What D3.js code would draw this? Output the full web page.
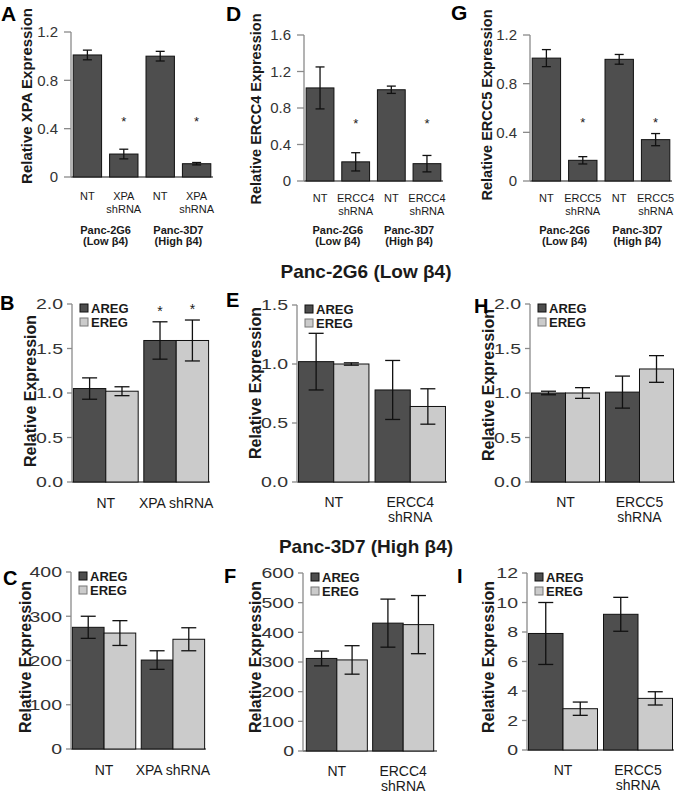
<!DOCTYPE html>
<html><head><meta charset="utf-8">
<script src="https://cdn.jsdelivr.net/npm/d3@7"></script>
<style>body{margin:0;background:#fff} text{font-family:Arial,"Liberation Sans",sans-serif;fill:#1a1a1a}</style>
</head><body><svg id="c" width="675" height="793"></svg>
<script>
// ---------- DATA ----------
// Row 1 (knockdown validation)
const catsA = ["NT","XPA|shRNA","NT","XPA|shRNA"];
const valsA = [1.01,0.19,1.00,0.11];
const errsA = [0.04,0.04,0.04,0.01];
const sigA  = [false,true,false,true];
const ticksA = [0,0.4,0.8,1.2];
const tickLabelsA = ["0","0.4","0.8","1.2"];

const catsD = ["NT","ERCC4|shRNA","NT","ERCC4|shRNA"];
const valsD = [1.02,0.21,1.00,0.19];
const errsD = [0.23,0.10,0.04,0.09];
const sigD  = [false,true,false,true];
const ticksD = [0,0.4,0.8,1.2,1.6];
const tickLabelsD = ["0","0.4","0.8","1.2","1.6"];

const catsG = ["NT","ERCC5|shRNA","NT","ERCC5|shRNA"];
const valsG = [1.01,0.17,1.00,0.34];
const errsG = [0.07,0.03,0.04,0.05];
const sigG  = [false,true,false,true];
const ticksG = [0,0.4,0.8,1.2];
const tickLabelsG = ["0","0.4","0.8","1.2"];

const cellLines = [["Panc-2G6","(Low β4)"],["Panc-3D7","(High β4)"]];
const seriesNames = ["AREG","EREG"];

// Row 2: Panc-2G6 (Low β4)
const catsB = ["NT","XPA shRNA"];
const aregB = [1.05,1.59], aregErrB = [0.12,0.21];
const eregB = [1.02,1.59], eregErrB = [0.05,0.23];
const sigB  = [false,true];
const ticksB = [0,0.5,1.0,1.5,2.0];
const tickLabelsB = ["0.0","0.5","1.0","1.5","2.0"];

const catsE = ["NT","ERCC4|shRNA"];
const aregE = [1.02,0.78], aregErrE = [0.24,0.25];
const eregE = [1.00,0.64], eregErrE = [0.01,0.15];
const sigE  = [false,false];
const ticksE = [0,0.5,1.0,1.5];
const tickLabelsE = ["0.0","0.5","1.0","1.5"];

const catsH = ["NT","ERCC5|shRNA"];
const aregH = [1.00,1.01], aregErrH = [0.02,0.18];
const eregH = [1.00,1.27], eregErrH = [0.06,0.15];
const sigH  = [false,false];
const ticksH = [0,0.5,1.0,1.5,2.0];
const tickLabelsH = ["0.0","0.5","1.0","1.5","2.0"];

// Row 3: Panc-3D7 (High β4)
const catsC = ["NT","XPA shRNA"];
const aregC = [275,201], aregErrC = [25,21];
const eregC = [262,248], eregErrC = [28,26];
const sigC  = [false,false];
const ticksC = [0,100,200,300,400];
const tickLabelsC = ["0","100","200","300","400"];

const catsF = ["NT","ERCC4|shRNA"];
const aregF = [312,431], aregErrF = [25,81];
const eregF = [307,426], eregErrF = [48,98];
const sigF  = [false,false];
const ticksF = [0,100,200,300,400,500,600];
const tickLabelsF = ["0","100","200","300","400","500","600"];

const catsI = ["NT","ERCC5|shRNA"];
const aregI = [7.9,9.2], aregErrI = [2.1,1.15];
const eregI = [2.8,3.5], eregErrI = [0.45,0.45];
const sigI  = [false,false];
const ticksI = [0,2,4,6,8,10,12];
const tickLabelsI = ["0","2","4","6","8","10","12"];

// ---------- STYLE ----------
const DARK = "#4e4e4e", LIGHT = "#cbcbcb", AX = "#8a8a8a", INK = "#111";
const svg = d3.select("#c");

function multiline(sel, label, lh) {
  label.split("|").forEach((t, i) => sel.append("tspan").attr("x", sel.attr("x")).attr("dy", i ? lh : 0).text(t));
}

function yAxis(g, y, x0, x1, ticks, labels, fs, sx, tl, off) {
  g.append("line").attr("x1", x0).attr("x2", x0).attr("y1", y(ticks[ticks.length-1])).attr("y2", y(0))
    .attr("stroke", AX).attr("stroke-width", 1.3);
  ticks.forEach((t, i) => {
    g.append("line").attr("x1", x0-tl).attr("x2", x0).attr("y1", y(t)).attr("y2", y(t)).attr("stroke", AX).attr("stroke-width", 1.3);
    g.append("text").attr("transform", `translate(${x0-off},${y(t)}) scale(${sx},1)`)
      .attr("text-anchor", "end").attr("dy", "0.36em").style("font-size", fs+"px").style("fill", "#333").text(labels[i]);
  });
  g.append("line").attr("x1", x0).attr("x2", x1).attr("y1", y(0)).attr("y2", y(0)).attr("stroke", AX).attr("stroke-width", 2);
}

function errBar(g, cx, y, v, e, cap) {
  g.append("line").attr("x1", cx).attr("x2", cx).attr("y1", y(v+e)).attr("y2", y(v-e)).attr("stroke", INK).attr("stroke-width", 1.3);
  [v+e, v-e].forEach(w => g.append("line").attr("x1", cx-cap/2).attr("x2", cx+cap/2).attr("y1", y(w)).attr("y2", y(w)).attr("stroke", INK).attr("stroke-width", 1.3));
}

function letter(t, x, y, fs) {
  svg.append("text").attr("x", x).attr("y", y).style("font-size", fs+"px").style("font-weight", "bold").style("fill", "#000").text(t);
}

function yTitle(t, x, y, fs) {
  svg.append("text").attr("transform", `translate(${x},${y}) rotate(-90)`).attr("text-anchor", "middle")
    .style("font-size", fs+"px").style("font-weight", "bold").text(t);
}

// Single series, 4 bars (row 1)
function single(p) {
  const g = svg.append("g");
  const y = d3.scaleLinear().domain([0, p.ticks[p.ticks.length-1]]).range([p.yBot, p.yTop]);
  const x = d3.scaleBand().domain(d3.range(p.vals.length)).range([p.x0, p.x1]).paddingInner(0.22).paddingOuter(0.06);
  yAxis(g, y, p.x0, p.x1, p.ticks, p.tickLabels, 15, 1, 7, 13);
  p.vals.forEach((v, i) => {
    g.append("rect").attr("x", x(i)).attr("y", y(v)).attr("width", x.bandwidth()).attr("height", y(0)-y(v))
      .attr("fill", DARK).attr("stroke", INK).attr("stroke-width", 1);
    errBar(g, x(i)+x.bandwidth()/2, y, v, p.errs[i], 9);
    if (p.sig[i]) g.append("text").attr("x", x(i)+x.bandwidth()/2).attr("y", y(p.star)).attr("text-anchor", "middle")
      .attr("dy", "0.7em").style("font-size", "13px").text("*");
    const t = g.append("text").attr("x", x(i)+x.bandwidth()/2).attr("y", p.labY).attr("text-anchor", "middle").style("font-size", "11px");
    multiline(t, p.cats[i], 13);
  });
  cellLines.forEach((cl, j) => {
    const cx = (x(2*j) + x(2*j+1) + x.bandwidth())/2;
    cl.forEach((s, k) => g.append("text").attr("x", cx).attr("y", p.grpY + k*11).attr("text-anchor", "middle")
      .style("font-size", "11px").style("font-weight", "bold").text(s));
  });
  yTitle(p.title, p.tx, p.ty, p.tfs);
  letter(p.letter, p.lx, p.ly, 21);
}

// Grouped AREG/EREG (rows 2-3)
function grouped(p) {
  const g = svg.append("g");
  const y = d3.scaleLinear().domain([0, p.ticks[p.ticks.length-1]]).range([p.yBot, p.yTop]);
  const x = d3.scaleBand().domain(d3.range(p.cats.length)).range([p.x0, p.x1]).paddingInner(0.08).paddingOuter(p.po);
  const xs = d3.scaleBand().domain([0,1]).range([0, x.bandwidth()]);
  yAxis(g, y, p.x0, p.x1, p.ticks, p.tickLabels, 15, 1.3, 5, 9);
  const series = [[p.areg, p.aregErr, DARK], [p.ereg, p.eregErr, LIGHT]];
  p.cats.forEach((c, i) => {
    series.forEach(([vals, errs, col], s) => {
      const v = vals[i], bx = x(i) + xs(s);
      g.append("rect").attr("x", bx).attr("y", y(v)).attr("width", xs.bandwidth()).attr("height", y(0)-y(v))
        .attr("fill", col).attr("stroke", INK).attr("stroke-width", 1);
      errBar(g, bx + xs.bandwidth()/2, y, v, errs[i], 15);
      if (p.sig[i]) g.append("text").attr("x", bx + xs.bandwidth()/2).attr("y", y(vals[i]+errs[i]) - 6)
        .attr("text-anchor", "middle").style("font-size", "14px").text("*");
    });
    const t = g.append("text").attr("x", x(i)+x.bandwidth()/2).attr("y", p.labY).attr("text-anchor", "middle").style("font-size", "14px");
    multiline(t, c, 15);
  });
  // legend
  seriesNames.forEach((n, k) => {
    const ly = p.yTop + k*14;
    g.append("rect").attr("x", p.x0+8).attr("y", ly).attr("width", 8).attr("height", 8)
      .attr("fill", k ? LIGHT : DARK).attr("stroke", k ? "#777" : INK).attr("stroke-width", 1);
    g.append("text").attr("x", p.x0+19).attr("y", ly+9).style("font-size", "13px").style("font-weight", "bold").text(n);
  });
  yTitle("Relative Expression", p.tx, p.ty, 16);
  letter(p.letter, p.lx, p.ly, 20);
}

// ---------- PANELS ----------
single({letter:"A", lx:1, ly:21, x0:71, x1:213, yTop:32, yBot:177, ticks:ticksA, tickLabels:tickLabelsA,
  vals:valsA, errs:errsA, sig:sigA, star:0.5, cats:catsA, labY:200, grpY:234, title:"Relative XPA Expression", tfs:15, tx:32, ty:96});
single({letter:"D", lx:226, ly:21, x0:304, x1:443, yTop:35, yBot:181, ticks:ticksD, tickLabels:tickLabelsD,
  vals:valsD, errs:errsD, sig:sigD, star:0.68, cats:catsD, labY:202, grpY:234, title:"Relative ERCC4 Expression", tfs:14.5, tx:261, ty:109});
single({letter:"G", lx:451, ly:20, x0:530, x1:672, yTop:35, yBot:181, ticks:ticksG, tickLabels:tickLabelsG,
  vals:valsG, errs:errsG, sig:sigG, star:0.52, cats:catsG, labY:202, grpY:234, title:"Relative ERCC5 Expression", tfs:14.5, tx:492, ty:105});

svg.append("text").attr("x", 366).attr("y", 278).attr("text-anchor", "middle").style("font-size", "19px").style("font-weight", "bold").text("Panc-2G6 (Low β4)");
svg.append("text").attr("x", 366).attr("y", 553).attr("text-anchor", "middle").style("font-size", "19px").style("font-weight", "bold").text("Panc-3D7 (High β4)");

grouped({letter:"B", lx:0, ly:310, x0:72, x1:210, po:0.02, yTop:304, yBot:482, ticks:ticksB, tickLabels:tickLabelsB,
  cats:catsB, areg:aregB, aregErr:aregErrB, ereg:eregB, eregErr:eregErrB, sig:sigB, labY:508, tx:36, ty:391});
grouped({letter:"E", lx:226, ly:307, x0:297, x1:447, po:0.02, yTop:305, yBot:482, ticks:ticksE, tickLabels:tickLabelsE,
  cats:catsE, areg:aregE, aregErr:aregErrE, ereg:eregE, eregErr:eregErrE, sig:sigE, labY:507, tx:261, ty:383});
grouped({letter:"H", lx:474, ly:313, x0:530, x1:675, po:0.02, yTop:304, yBot:482, ticks:ticksH, tickLabels:tickLabelsH,
  cats:catsH, areg:aregH, aregErr:aregErrH, ereg:eregH, eregErr:eregErrH, sig:sigH, labY:507, tx:494, ty:385});

grouped({letter:"C", lx:3, ly:585, x0:71, x1:206, po:0.02, yTop:572, yBot:749, ticks:ticksC, tickLabels:tickLabelsC,
  cats:catsC, areg:aregC, aregErr:aregErrC, ereg:eregC, eregErr:eregErrC, sig:sigC, labY:775, tx:31, ty:657});
grouped({letter:"F", lx:224, ly:583, x0:303, x1:437, po:0.05, yTop:573, yBot:751, ticks:ticksF, tickLabels:tickLabelsF,
  cats:catsF, areg:aregF, aregErr:aregErrF, ereg:eregF, eregErr:eregErrF, sig:sigF, labY:776, tx:261, ty:657});
grouped({letter:"I", lx:457, ly:583, x0:527, x1:674, po:0.02, yTop:573, yBot:750, ticks:ticksI, tickLabels:tickLabelsI,
  cats:catsI, areg:aregI, aregErr:aregErrI, ereg:eregI, eregErr:eregErrI, sig:sigI, labY:775, tx:494, ty:657});
</script>
</body></html>
